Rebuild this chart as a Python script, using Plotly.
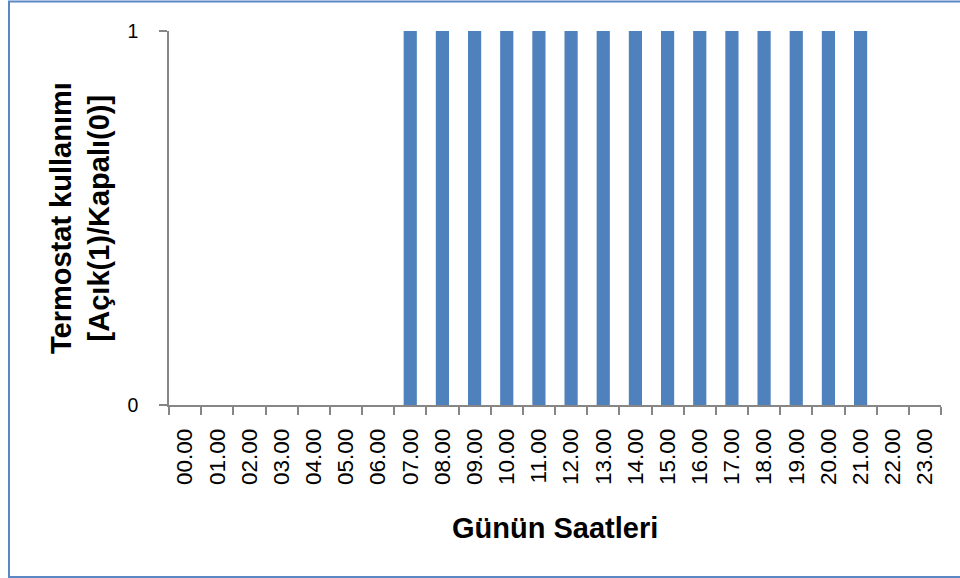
import plotly.graph_objects as go

hours = ["00.00", "01.00", "02.00", "03.00", "04.00", "05.00", "06.00", "07.00",
         "08.00", "09.00", "10.00", "11.00", "12.00", "13.00", "14.00", "15.00",
         "16.00", "17.00", "18.00", "19.00", "20.00", "21.00", "22.00", "23.00"]
usage = [0, 0, 0, 0, 0, 0, 0, 1, 1, 1, 1, 1, 1, 1, 1, 1, 1, 1, 1, 1, 1, 1, 0, 0]

y_title = "<b>Termostat kullanımı</b><br><b>[Açık(1)/Kapalı(0)]</b>"
x_title = "<b>Günün Saatleri</b>"

W, H = 960, 578
L, R, T, B = 169, 941, 31, 405
FONT = "Liberation Sans"

fig = go.Figure(go.Bar(x=hours, y=usage, marker_color="#4F81BD", width=0.41,
                       marker_line_width=0))

grey = "#868686"
fig.update_layout(
    width=W, height=H,
    margin=dict(l=L, r=W - R, t=T, b=H - B),
    plot_bgcolor="white", paper_bgcolor="white",
    showlegend=False,
    font=dict(family=FONT, color="black"),
    xaxis=dict(type="category", range=[-0.5, 23.5], tickangle=-90,
               tickson="boundaries", ticks="outside", ticklen=8, tickcolor=grey,
               tickwidth=1.5, showline=True, linecolor=grey, linewidth=1.5,
               showgrid=False, tickfont=dict(size=22.5, family=FONT),
               ticklabelstandoff=13, automargin=False),
    yaxis=dict(range=[0, 1], tickvals=[0, 1], ticks="outside", ticklen=8,
               tickcolor=grey, tickwidth=1.5, showline=True, linecolor=grey,
               linewidth=1.5, showgrid=True, gridcolor=grey, gridwidth=1.5,
               zeroline=False, tickfont=dict(size=19.5, family=FONT),
               ticklabelstandoff=17, automargin=False),
    annotations=[
        dict(text=y_title, textangle=-90, xref="paper", yref="paper",
             x=(80 - L) / (R - L), y=0.5, xanchor="center", yanchor="middle",
             showarrow=False, font=dict(size=29, family=FONT), align="center"),
        dict(text=x_title, xref="paper", yref="paper",
             x=0.5, y=(B - 528) / (B - T), xanchor="center", yanchor="middle",
             showarrow=False, font=dict(size=29, family=FONT)),
    ],
    shapes=[dict(type="rect", xref="paper", yref="paper",
                 x0=(9 - L) / (R - L), x1=(963 - L) / (R - L),
                 y0=(B - 577) / (B - T), y1=(B - 1.5) / (B - T),
                 line=dict(color="#5B87C4", width=2), layer="below")],
)

fig.write_html("out.html")
